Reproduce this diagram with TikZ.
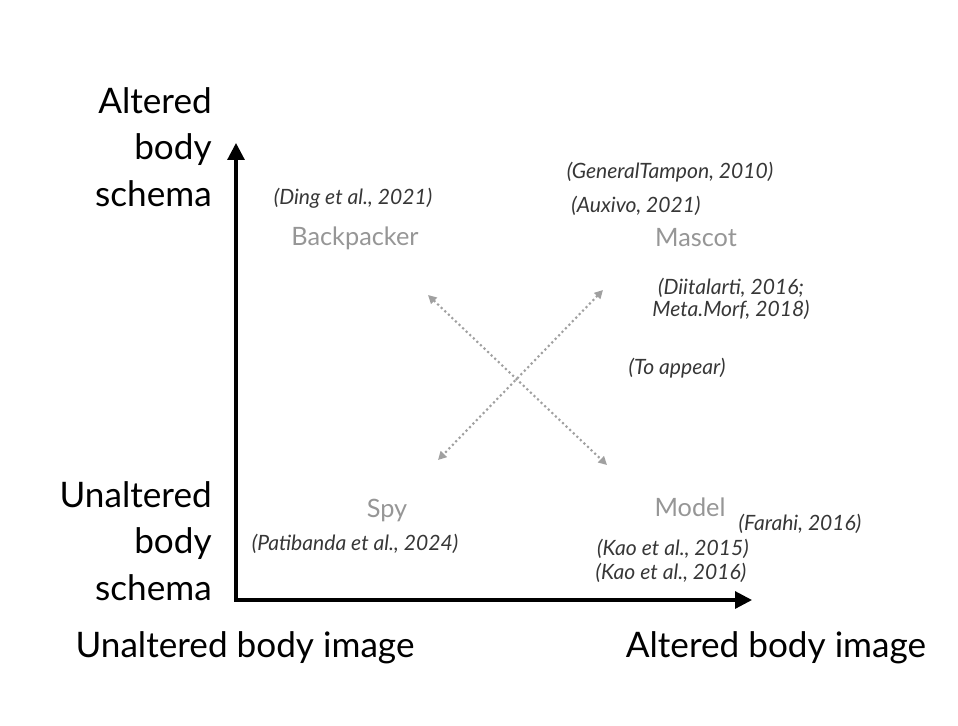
\documentclass[tikz,border=0pt]{standalone}
\usepackage{fontspec}
\setmainfont{Lato}
\usetikzlibrary{arrows.meta,positioning}
\definecolor{personagray}{RGB}{150,150,150}
\definecolor{citegray}{RGB}{55,55,55}
\definecolor{dotgray}{RGB}{160,160,160}

\begin{document}
\begin{tikzpicture}[
    x=0.025cm, y=-0.025cm,
    axis/.style={line width=2.2pt, -{Triangle[length=12pt, width=12pt]}},
    link/.style={line width=1.5pt, dotted, draw=dotgray, {Triangle[length=6pt, width=6pt]}-{Triangle[length=6pt, width=6pt]}},
    axislabel/.style={font=\fontsize{25}{33}\selectfont, inner sep=0pt, text=black},
    persona/.style={font=\fontsize{18}{20}\selectfont, text=personagray, inner sep=0pt},
    cite/.style={font=\fontsize{15}{16}\selectfont\itshape, text=citegray, inner sep=0pt, align=center}
]
\useasboundingbox (0,0) rectangle (958,725);

% Axes
\coordinate (origin) at (236,600);
\coordinate (ytop) at (236,143);
\coordinate (xend) at (752,600);
\draw[axis] (origin) -- (ytop);
\draw[axis] ([xshift=-1.1pt]origin) -- (xend);

% Axis labels
\node[axislabel, align=right, anchor=east] (alteredschema) at (212,147) {Altered\\body\\schema};
\node[axislabel, align=right, anchor=east] (unalteredschema) at (212,541) {Unaltered\\body\\schema};
\node[axislabel] (unalteredimage) at (245,648) {Unaltered body image};
\node[axislabel] (alteredimage) at (776,648) {Altered body image};

% Personas
\node[persona] (backpacker) at (355,238) {Backpacker};
\node[persona] (mascot) at (696,238) {Mascot};
\node[persona] (spy) at (387,510) {Spy};
\node[persona] (model) at (690,507) {Model};

% Dotted links
\coordinate (nw) at (428,295);
\coordinate (se) at (607,465);
\coordinate (ne) at (603,290);
\coordinate (sw) at (438,460);
\draw[link] (nw) -- (se);
\draw[link] (ne) -- (sw);

% Citations
\node[cite] (ding) at (353,198) {(Ding et al., 2021)};
\node[cite] (tampon) at (670,172) {(GeneralTampon, 2010)};
\node[cite] (auxivo) at (636,206) {(Auxivo, 2021)};
\node[cite] (diitalarti) at (731,299) {(Diitalarti, 2016;\\Meta.Morf, 2018)};
\node[cite] (toappear) at (677,368) {(To appear)};
\node[cite] (patibanda) at (355,544) {(Patibanda et al., 2024)};
\node[cite] (farahi) at (800,524) {(Farahi, 2016)};
\node[cite] (kao15) at (673,549) {(Kao et al., 2015)};
\node[cite] (kao16) at (671,573) {(Kao et al., 2016)};
\end{tikzpicture}
\end{document}
